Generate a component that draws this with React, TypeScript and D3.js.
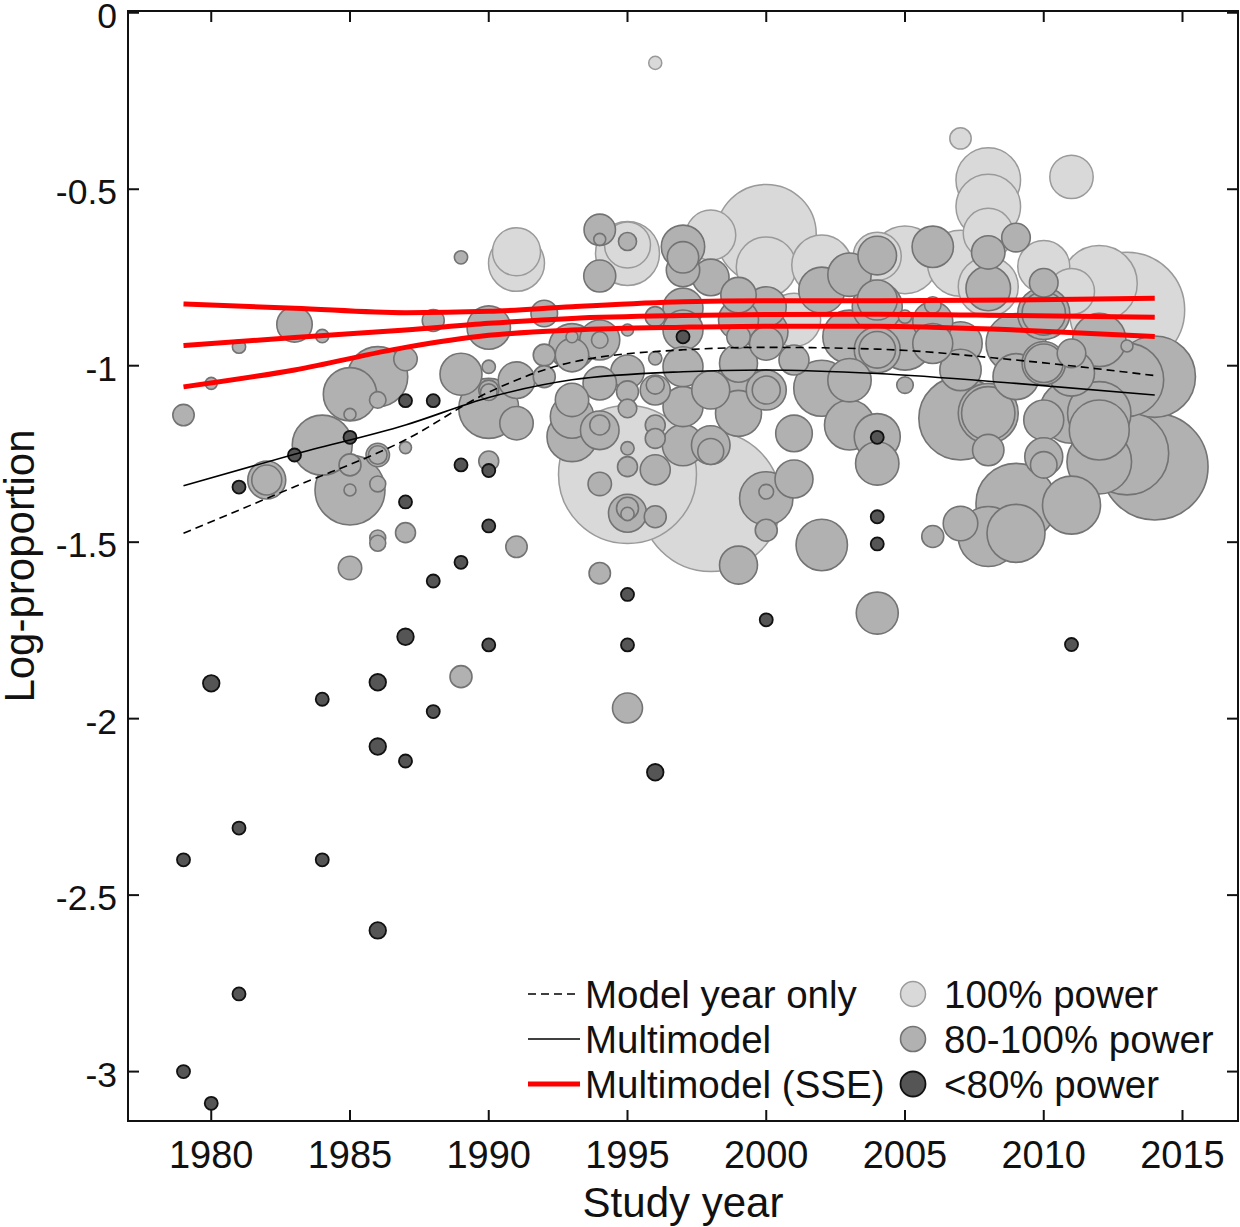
import * as d3 from "d3";

// [study year, log-proportion, sample size]
type Study = [number, number, number];

const POWER_100: Study[] = [
  [1995, -1.308, 2914], [1998, -1.385, 3000], [2000, -0.628, 1531], [2013, -0.842, 2038],
  [2012, -0.767, 884], [2000, -0.72, 551], [2002, -0.715, 551], [1998, -0.63, 383],
  [1995, -0.682, 627], [1995, -0.658, 324], [1991, -0.677, 353], [1991, -0.71, 480],
  [2008, -0.474, 639], [2008, -0.549, 639], [2008, -0.625, 383], [2007, -0.356, 70],
  [2011, -0.465, 288], [2010, -0.719, 414], [2011, -0.79, 324], [2005, -0.7, 700],
  [2004, -0.69, 353], [2007, -0.71, 667], [2008, -0.776, 551], [1996, -0.142, 26],
  [2001, -0.87, 436],
];

const POWER_80_100: Study[] = [
  [1979, -1.14, 70], [1981, -0.946, 27], [1980, -1.05, 22], [1983, -0.883, 192],
  [1984, -0.916, 27], [1982, -1.324, 221], [1982, -1.324, 138], [1985, -1.081, 436],
  [1986, -1.031, 551], [1987, -0.981, 84], [1986, -1.097, 42], [1985, -1.138, 22],
  [1984, -1.225, 551], [1985, -1.352, 750], [1985, -1.281, 74], [1985, -1.352, 22],
  [1986, -1.335, 39], [1986, -1.253, 84], [1986, -1.253, 53], [1987, -1.232, 22],
  [1987, -1.473, 61], [1986, -1.488, 39], [1986, -1.503, 39], [1985, -1.573, 84],
  [1989, -0.693, 27], [1988, -0.872, 74], [1990, -0.892, 288], [1989, -1.024, 270],
  [1990, -1.003, 27], [1990, -1.121, 551], [1990, -1.075, 42], [1990, -1.27, 61],
  [1994, -1.588, 70], [1989, -1.881, 74], [1995, -1.97, 138],
  [1994, -0.615, 151], [1994, -0.642, 22], [1995, -0.648, 50], [1994, -0.746, 157],
  [1997, -0.663, 288], [1997, -0.693, 151], [1997, -0.729, 171], [1998, -0.75, 205],
  [1999, -0.8, 192], [1997, -0.837, 245], [1997, -0.899, 245], [2000, -0.833, 245],
  [1999, -0.87, 245], [2000, -0.904, 288], [1999, -0.918, 84], [2002, -0.786, 324],
  [2003, -0.742, 288], [2004, -0.688, 228], [2004, -0.833, 383], [2003, -0.918, 436],
  [2004, -0.955, 324], [2001, -0.984, 138], [2000, -0.937, 171], [1999, -0.993, 221],
  [1998, -1.069, 221], [1999, -1.05, 324], [1999, -1.135, 324], [2000, -1.069, 245],
  [2000, -1.069, 120], [2002, -1.064, 480], [2003, -1.041, 288], [2001, -1.192, 205],
  [2003, -1.168, 383], [2004, -1.201, 324], [2004, -1.277, 288], [1997, -1.003, 245],
  [1997, -1.116, 245], [1996, -1.069, 138], [1996, -1.055, 50], [1996, -0.979, 27],
  [1996, -0.861, 61], [1995, -0.899, 22], [1995, -1.017, 171], [1995, -1.074, 74],
  [1995, -1.121, 53], [1995, -1.234, 27], [1995, -1.286, 61], [1996, -1.168, 61],
  [1996, -1.206, 61], [1996, -1.295, 138], [1997, -1.225, 262], [1998, -1.225, 228],
  [1998, -1.243, 103], [1994, -0.927, 245], [1994, -0.927, 42], [1993, -0.97, 171],
  [1993, -0.918, 22], [1993, -0.946, 324], [1992, -0.97, 74], [1992, -0.852, 108],
  [1994, -1.05, 171], [1993, -1.097, 171], [1993, -1.144, 288], [1994, -1.168, 61],
  [1994, -1.183, 228], [1993, -1.201, 383], [1991, -1.163, 171], [1991, -1.041, 205],
  [1990, -1.069, 61], [1992, -1.031, 74],
  [1994, -1.335, 84], [1995, -1.418, 221], [1995, -1.404, 74], [1995, -1.42, 27],
  [1996, -1.428, 74], [1991, -1.513, 70], [1999, -1.565, 221], [2000, -1.376, 436],
  [2000, -1.357, 33], [2001, -1.321, 221], [2000, -1.466, 74], [2002, -1.508, 404],
  [2004, -1.701, 270],
  [2006, -0.663, 262], [2008, -0.679, 171], [2009, -0.637, 125], [2008, -0.781, 304],
  [2010, -0.765, 125], [2010, -0.852, 414], [2010, -0.852, 288], [2004, -0.814, 245],
  [2006, -0.875, 245], [2006, -0.828, 42], [2005, -0.861, 27], [2007, -0.937, 288],
  [2004, -0.955, 205], [2005, -1.055, 42], [2007, -1.012, 262], [2009, -0.937, 551],
  [2010, -0.993, 288], [2010, -0.993, 228], [2011, -0.965, 125], [2012, -0.927, 436],
  [2013, -0.944, 22], [2014, -1.031, 1014], [2013, -1.04, 824], [2011, -1.021, 324],
  [2008, -1.135, 436], [2008, -1.135, 551], [2007, -1.149, 1064], [2010, -1.154, 245],
  [2012, -1.182, 551], [2009, -1.031, 324], [2006, -0.937, 245], [2005, -0.937, 436],
  [2008, -1.239, 151], [2007, -1.447, 183], [2006, -1.484, 74], [2008, -1.484, 551],
  [2009, -1.39, 980], [2009, -1.475, 515], [2010, -1.281, 108], [2010, -1.258, 221],
  [2011, -1.13, 615], [2013, -1.248, 1064], [2012, -1.272, 639], [2014, -1.286, 1739],
  [2011, -1.395, 515], [2012, -1.135, 615],
];

const POWER_LT80: Study[] = [
  [1979, -2.4, 26], [1979, -3.0, 26], [1980, -3.09, 26], [1980, -1.9, 42],
  [1981, -2.31, 26], [1981, -2.78, 26], [1981, -1.344, 26], [1983, -1.253, 26],
  [1984, -1.945, 26], [1984, -2.4, 26], [1985, -1.203, 26], [1986, -1.897, 42],
  [1986, -2.079, 42], [1986, -2.6, 42], [1987, -1.099, 26], [1987, -1.386, 26],
  [1987, -1.768, 42], [1987, -2.12, 26], [1988, -1.099, 26], [1988, -1.61, 26],
  [1988, -1.98, 26], [1989, -1.281, 26], [1989, -1.557, 26], [1990, -1.297, 26],
  [1990, -1.454, 26], [1990, -1.791, 26], [1995, -1.648, 26], [1995, -1.791, 26],
  [1996, -2.152, 42], [1997, -0.918, 26], [2000, -1.72, 26], [2004, -1.203, 26],
  [2004, -1.428, 26], [2004, -1.505, 26], [2011, -1.79, 26],
];

const CURVE_YEARS = [1979, 1983, 1987, 1990, 1993, 1997, 2000, 2004, 2009, 2014];
const SSE_UPPER = [-0.825, -0.837, -0.85, -0.846, -0.833, -0.819, -0.816, -0.816, -0.814, -0.809];
const SSE_MID = [-0.943, -0.92, -0.899, -0.88, -0.866, -0.858, -0.855, -0.854, -0.858, -0.863];
const SSE_LOWER = [-1.06, -1.012, -0.948, -0.914, -0.899, -0.891, -0.888, -0.888, -0.899, -0.917];
const MULTIMODEL = [-1.34, -1.251, -1.168, -1.09, -1.04, -1.017, -1.012, -1.022, -1.05, -1.083];
const YEAR_ONLY = [-1.475, -1.343, -1.21, -1.075, -0.99, -0.955, -0.948, -0.953, -0.984, -1.028];

const X_TICKS = [1980, 1985, 1990, 1995, 2000, 2005, 2010, 2015];
const Y_TICKS = [0, -0.5, -1, -1.5, -2, -2.5, -3];

const LINE_LEGEND = ["Model year only", "Multimodel", "Multimodel (SSE)"];
const POWER_LEGEND = ["100% power", "80-100% power", "<80% power"];

const W = 1240;
const H = 1227;
const PLOT = { left: 128, right: 1238, top: 11, bottom: 1121 };
const FONT = "'Liberation Sans', Arial, Helvetica, sans-serif";

const GROUPS = [
  { data: POWER_100, fill: "#d9d9d9", stroke: "#9a9a9a", sw: 1.5 },
  { data: POWER_80_100, fill: "#b1b1b1", stroke: "#737373", sw: 1.6 },
  { data: POWER_LT80, fill: "#555555", stroke: "#111111", sw: 1.8 },
];

const LINE_STYLES = [
  { stroke: "#000", width: 1.6, dash: "8,5" },
  { stroke: "#000", width: 1.6, dash: undefined },
  { stroke: "#ff0000", width: 5, dash: undefined },
];

export default function App() {
  const x = d3.scaleLinear().domain([1977, 2017]).range([PLOT.left, PLOT.right]);
  const y = d3.scaleLinear().domain([-3.14, 0.005]).range([PLOT.bottom, PLOT.top]);
  const r = d3.scaleSqrt().domain([0, 3000]).range([0, 70]);

  const line = d3
    .line<number>()
    .x((_, i) => x(CURVE_YEARS[i]))
    .y((d) => y(d))
    .curve(d3.curveMonotoneX);

  const tickLen = 11;

  return (
    <svg
      width={W}
      height={H}
      viewBox={`0 0 ${W} ${H}`}
      style={{ position: "absolute", left: 0, top: 0, background: "#fff" }}
      fontFamily={FONT}
    >
      <rect width={W} height={H} fill="#fff" />

      {/* bubbles: each power group, largest first */}
      {GROUPS.map((g, gi) => (
        <g key={gi}>
          {[...g.data]
            .sort((a, b) => b[2] - a[2])
            .map((d, i) => (
              <circle
                key={i}
                cx={x(d[0])}
                cy={y(d[1])}
                r={r(d[2])}
                fill={g.fill}
                stroke={g.stroke}
                strokeWidth={g.sw}
              />
            ))}
        </g>
      ))}

      {/* model curves */}
      <path d={line(YEAR_ONLY) ?? ""} fill="none" stroke="#000" strokeWidth={1.6} strokeDasharray="8,5" />
      <path d={line(MULTIMODEL) ?? ""} fill="none" stroke="#000" strokeWidth={1.6} />
      {[SSE_UPPER, SSE_MID, SSE_LOWER].map((s, i) => (
        <path key={i} d={line(s) ?? ""} fill="none" stroke="#ff0000" strokeWidth={5} />
      ))}

      {/* axes box and ticks */}
      <rect
        x={PLOT.left}
        y={PLOT.top}
        width={PLOT.right - PLOT.left}
        height={PLOT.bottom - PLOT.top}
        fill="none"
        stroke="#111"
        strokeWidth={2}
      />
      {X_TICKS.map((t) => (
        <g key={t}>
          <line x1={x(t)} x2={x(t)} y1={PLOT.bottom} y2={PLOT.bottom - tickLen} stroke="#111" strokeWidth={2} />
          <line x1={x(t)} x2={x(t)} y1={PLOT.top} y2={PLOT.top + tickLen} stroke="#111" strokeWidth={2} />
          <text x={x(t)} y={1168} textAnchor="middle" fontSize={38} fill="#111">
            {t}
          </text>
        </g>
      ))}
      {Y_TICKS.map((t) => (
        <g key={t}>
          <line x1={PLOT.left} x2={PLOT.left + tickLen} y1={y(t)} y2={y(t)} stroke="#111" strokeWidth={2} />
          <line x1={PLOT.right} x2={PLOT.right - tickLen} y1={y(t)} y2={y(t)} stroke="#111" strokeWidth={2} />
          <text x={117} y={y(t) + 15} textAnchor="end" fontSize={35.5} fill="#111">
            {String(t)}
          </text>
        </g>
      ))}

      <text x={(PLOT.left + PLOT.right) / 2} y={1217} textAnchor="middle" fontSize={42} fill="#111">
        Study year
      </text>
      <text
        transform={`translate(34,${(PLOT.top + PLOT.bottom) / 2}) rotate(-90)`}
        textAnchor="middle"
        fontSize={42}
        fill="#111"
      >
        Log-proportion
      </text>

      {/* legend */}
      {LINE_LEGEND.map((label, i) => {
        const ly = 994 + i * 45;
        const st = LINE_STYLES[i];
        return (
          <g key={label}>
            <line x1={528} x2={580} y1={ly} y2={ly} stroke={st.stroke} strokeWidth={st.width} strokeDasharray={st.dash} />
            <text x={585} y={ly + 13.5} fontSize={38.5} fill="#111">
              {label}
            </text>
          </g>
        );
      })}
      {POWER_LEGEND.map((label, i) => {
        const ly = 994 + i * 45;
        const g = GROUPS[i];
        return (
          <g key={label}>
            <circle cx={913} cy={ly} r={12.5} fill={g.fill} stroke={g.stroke} strokeWidth={g.sw} />
            <text x={944} y={ly + 13.5} fontSize={38.5} fill="#111">
              {label}
            </text>
          </g>
        );
      })}
    </svg>
  );
}
